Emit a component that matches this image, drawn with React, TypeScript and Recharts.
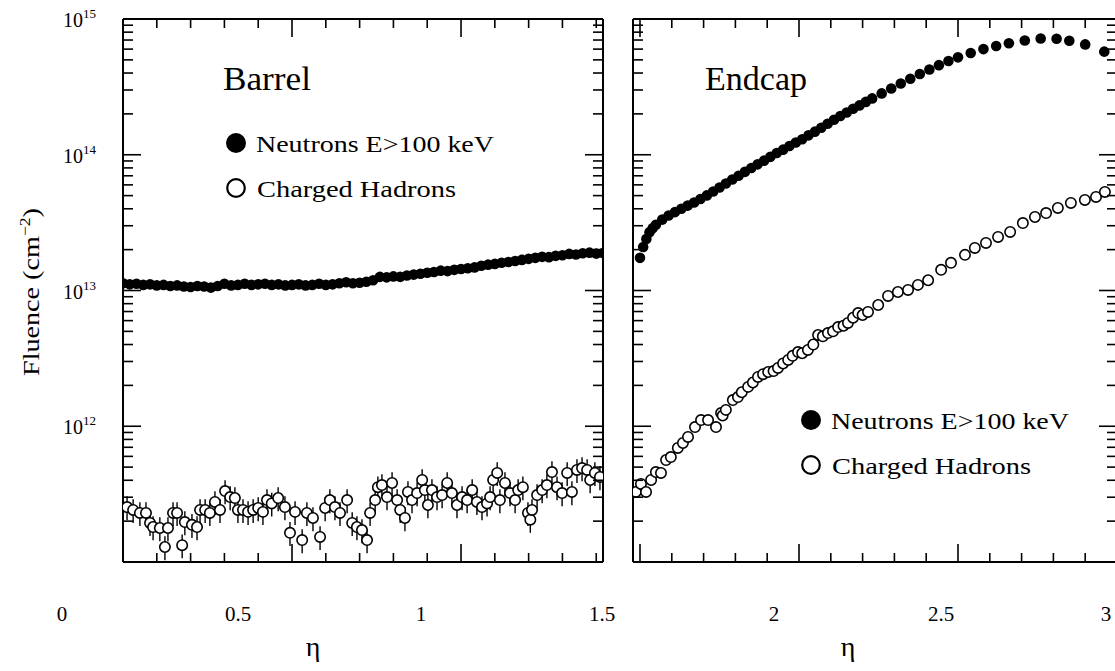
import React from 'react';
import { ScatterChart, Scatter, XAxis, YAxis, ErrorBar } from 'recharts';

const FONT = '"Liberation Serif", "Times New Roman", serif';

// ---- Barrel (|eta| < 1.42) ----
const barrelNeutronEta = [
  0.0, 0.02, 0.04, 0.06, 0.08, 0.1, 0.12, 0.14, 0.16, 0.18, 0.2, 0.22, 0.24, 0.26, 0.28, 0.3, 0.32, 0.34,
  0.36, 0.38, 0.4, 0.42, 0.44, 0.46, 0.48, 0.5, 0.52, 0.54, 0.56, 0.58, 0.6, 0.62, 0.64, 0.66, 0.68, 0.7,
  0.72, 0.74, 0.76, 0.78, 0.8, 0.82, 0.84, 0.86, 0.88, 0.9, 0.92, 0.94, 0.96, 0.98, 1.0, 1.02, 1.04, 1.06,
  1.08, 1.1, 1.12, 1.14, 1.16, 1.18, 1.2, 1.22, 1.24, 1.26, 1.28, 1.3, 1.32, 1.34, 1.36, 1.38, 1.4, 1.42,
];
const barrelNeutronFluence = [
  1.13e13, 1.11e13, 1.12e13, 1.1e13, 1.11e13, 1.09e13, 1.1e13, 1.08e13, 1.09e13, 1.07e13, 1.06e13, 1.08e13,
  1.07e13, 1.05e13, 1.08e13, 1.12e13, 1.09e13, 1.1e13, 1.12e13, 1.1e13, 1.11e13, 1.12e13, 1.1e13, 1.11e13,
  1.09e13, 1.1e13, 1.11e13, 1.09e13, 1.1e13, 1.12e13, 1.1e13, 1.11e13, 1.13e13, 1.15e13, 1.13e13, 1.14e13,
  1.16e13, 1.19e13, 1.26e13, 1.25e13, 1.27e13, 1.26e13, 1.29e13, 1.31e13, 1.33e13, 1.35e13, 1.37e13, 1.4e13,
  1.39e13, 1.42e13, 1.44e13, 1.46e13, 1.48e13, 1.52e13, 1.55e13, 1.57e13, 1.6e13, 1.62e13, 1.65e13, 1.68e13,
  1.71e13, 1.74e13, 1.77e13, 1.76e13, 1.8e13, 1.82e13, 1.86e13, 1.84e13, 1.88e13, 1.9e13, 1.87e13, 1.89e13,
];

const barrelHadronEta = [
  0.012, 0.03, 0.05, 0.068, 0.08, 0.089, 0.109, 0.124, 0.133, 0.148, 0.16, 0.175, 0.183, 0.204, 0.219, 0.228,
  0.243, 0.257, 0.272, 0.287, 0.302, 0.317, 0.331, 0.34, 0.355, 0.37, 0.385, 0.4, 0.414, 0.426, 0.44, 0.459,
  0.479, 0.494, 0.509, 0.53, 0.544, 0.562, 0.583, 0.598, 0.612, 0.627, 0.642, 0.663, 0.678, 0.692, 0.707, 0.722,
  0.731, 0.746, 0.754, 0.766, 0.781, 0.796, 0.811, 0.82, 0.834, 0.843, 0.855, 0.87, 0.885, 0.893, 0.902, 0.914,
  0.929, 0.944, 0.959, 0.973, 0.988, 1.003, 1.018, 1.033, 1.047, 1.062, 1.077, 1.086, 1.095, 1.107, 1.115, 1.13,
  1.145, 1.16, 1.169, 1.183, 1.198, 1.205, 1.21, 1.225, 1.24, 1.254, 1.269, 1.284, 1.299, 1.314, 1.328, 1.343,
  1.358, 1.373, 1.382, 1.396, 1.411,
];
const barrelHadronFluence = [
  2.54e11, 2.42e11, 2.3e11, 2.3e11, 1.94e11, 1.81e11, 1.78e11, 1.29e11, 1.78e11, 2.3e11, 2.3e11, 1.33e11,
  1.97e11, 1.88e11, 1.81e11, 2.42e11, 2.42e11, 2.3e11, 2.77e11, 2.42e11, 3.33e11, 3.01e11, 2.96e11, 2.42e11,
  2.42e11, 2.34e11, 2.42e11, 2.5e11, 2.34e11, 2.86e11, 2.7e11, 2.96e11, 2.54e11, 1.64e11, 2.34e11, 1.45e11,
  2.3e11, 2.11e11, 1.53e11, 2.5e11, 2.86e11, 2.54e11, 2.3e11, 2.86e11, 1.94e11, 1.81e11, 1.72e11, 1.45e11,
  2.3e11, 2.86e11, 3.56e11, 3.69e11, 3.01e11, 3.82e11, 2.86e11, 2.42e11, 2.11e11, 3.28e11, 2.86e11, 3.22e11,
  4.02e11, 3.39e11, 2.63e11, 3.39e11, 3.01e11, 3.11e11, 3.82e11, 3.22e11, 2.63e11, 3.01e11, 2.86e11, 3.39e11,
  2.77e11, 2.54e11, 2.7e11, 3.01e11, 4.02e11, 4.53e11, 2.86e11, 3.82e11, 3.22e11, 2.86e11, 3.39e11, 3.56e11,
  2.3e11, 2.05e11, 2.42e11, 3.11e11, 3.39e11, 3.69e11, 4.6e11, 3.56e11, 3.22e11, 4.53e11, 3.28e11, 4.77e11,
  4.92e11, 4.77e11, 4.02e11, 4.53e11, 4.23e11,
];

// ---- Endcap (1.48 < |eta| < 3) ----
const endcapNeutronEta = [
  1.5, 1.51, 1.52, 1.53, 1.54, 1.55, 1.57, 1.59, 1.61, 1.63, 1.65, 1.67, 1.69, 1.71, 1.73, 1.75, 1.77, 1.79,
  1.81, 1.83, 1.85, 1.87, 1.89, 1.91, 1.93, 1.95, 1.97, 1.99, 2.01, 2.03, 2.05, 2.07, 2.09, 2.11, 2.13, 2.15,
  2.17, 2.19, 2.21, 2.23, 2.26, 2.29, 2.32, 2.35, 2.38, 2.41, 2.44, 2.47, 2.5, 2.54, 2.58, 2.62, 2.66, 2.71,
  2.76, 2.81, 2.85, 2.9, 2.96,
];
const endcapNeutronFluence = [
  1.74e13, 2.09e13, 2.4e13, 2.69e13, 2.88e13, 3.05e13, 3.33e13, 3.57e13, 3.78e13, 4.0e13, 4.22e13, 4.45e13,
  4.72e13, 5.02e13, 5.36e13, 5.74e13, 6.14e13, 6.57e13, 7.0e13, 7.48e13, 7.98e13, 8.5e13, 9.05e13, 9.65e13,
  1.03e14, 1.09e14, 1.16e14, 1.23e14, 1.3e14, 1.39e14, 1.48e14, 1.58e14, 1.69e14, 1.81e14, 1.93e14, 2.05e14,
  2.18e14, 2.31e14, 2.45e14, 2.6e14, 2.83e14, 3.08e14, 3.35e14, 3.63e14, 3.93e14, 4.25e14, 4.57e14, 4.9e14,
  5.22e14, 5.62e14, 6.0e14, 6.33e14, 6.62e14, 6.95e14, 7.18e14, 7.16e14, 6.92e14, 6.5e14, 5.75e14,
];

const endcapHadronEta = [
  1.487, 1.503, 1.519, 1.535, 1.55, 1.566, 1.582, 1.597, 1.619, 1.635, 1.651, 1.673, 1.692, 1.714, 1.739, 1.755,
  1.76, 1.77, 1.792, 1.808, 1.82, 1.84, 1.855, 1.871, 1.887, 1.903, 1.92, 1.934, 1.95, 1.966, 1.98, 1.997, 2.01,
  2.028, 2.045, 2.06, 2.075, 2.091, 2.107, 2.123, 2.14, 2.154, 2.17, 2.186, 2.2, 2.217, 2.249, 2.28, 2.311,
  2.343, 2.374, 2.406, 2.447, 2.478, 2.522, 2.553, 2.588, 2.626, 2.664, 2.704, 2.742, 2.777, 2.814, 2.855,
  2.899, 2.934, 2.962,
];
const endcapHadronFluence = [
  3.28e11, 3.76e11, 3.28e11, 4.02e11, 4.6e11, 4.53e11, 5.64e11, 5.93e11, 6.92e11, 7.53e11, 8.34e11, 9.86e11,
  1.11e12, 1.11e12, 9.86e11, 1.25e12, 1.2e12, 1.32e12, 1.56e12, 1.64e12, 1.78e12, 1.95e12, 2.1e12, 2.31e12,
  2.42e12, 2.51e12, 2.55e12, 2.69e12, 2.9e12, 3.08e12, 3.3e12, 3.52e12, 3.45e12, 3.65e12, 4.0e12, 4.7e12,
  4.6e12, 4.86e12, 5.0e12, 5.38e12, 5.5e12, 5.77e12, 6.3e12, 6.82e12, 6.6e12, 6.95e12, 7.82e12, 9.12e12,
  9.75e12, 1.01e13, 1.1e13, 1.19e13, 1.42e13, 1.6e13, 1.83e13, 2.06e13, 2.24e13, 2.48e13, 2.7e13, 3.14e13,
  3.48e13, 3.72e13, 4.06e13, 4.42e13, 4.65e13, 4.89e13, 5.32e13,
];

// relative statistical errors on the charged hadron points
const BARREL_HADRON_ERR = 0.2;
const ENDCAP_HADRON_ERR = 0.06;

// ---- axes ----
const barrelTicks = [0, 0.1, 0.2, 0.3, 0.4, 0.5, 0.6, 0.7, 0.8, 0.9, 1.0, 1.1, 1.2, 1.3, 1.4];
const endcapTicks = [1.5, 1.6, 1.7, 1.8, 1.9, 2.0, 2.1, 2.2, 2.3, 2.4, 2.5, 2.6, 2.7, 2.8, 2.9, 3.0];
const decades = [11, 12, 13, 14];
const mantissas = [1, 2, 3, 4, 5, 6, 7, 8, 9];
const yTicks = [...decades.flatMap((d) => mantissas.map((m) => m * 10 ** d)), 1e15];
const labelledDecades = [12, 13, 14, 15];

const xLabels = ['0', '0.5', '1', '1.5', '2', '2.5', '3'];
const xLabelPos = [62, 238, 421, 602, 774, 941, 1106];

const isHalf = (v: number) => Math.abs(v * 2 - Math.round(v * 2)) < 1e-6;
const isDecade = (v: number) => {
  const e = Math.round(Math.log10(v));
  return Math.abs(v / 10 ** e - 1) < 1e-6;
};

const XTick = ({ x, y, payload, dir }: any) => {
  const len = isHalf(payload.value) ? 18 : 9;
  return <line x1={x} x2={x} y1={y} y2={y + dir * len} stroke="#000" strokeWidth={1.6} />;
};

const YTick = ({ x, y, payload, dir, label }: any) => {
  const major = isDecade(payload.value);
  const len = major ? 18 : 10;
  const exp = Math.round(Math.log10(payload.value));
  return (
    <g>
      <line x1={x} x2={x + dir * len} y1={y} y2={y} stroke="#000" strokeWidth={1.6} />
      {label && major && labelledDecades.includes(exp) && (
        <text x={x - 60} y={y + 8} fontFamily={FONT} fontSize={20} fill="#000">
          10
          <tspan dy={-9} fontSize={13}>
            {exp}
          </tspan>
        </text>
      )}
    </g>
  );
};

const FilledDot = ({ cx, cy }: any) => <circle cx={cx} cy={cy} r={5.3} fill="#000" />;
const OpenDot = ({ cx, cy }: any) => (
  <circle cx={cx} cy={cy} r={5.2} fill="#fff" stroke="#000" strokeWidth={1.6} />
);

const barrelNeutrons = barrelNeutronEta.map((eta, i) => ({ eta, fluence: barrelNeutronFluence[i] }));
const barrelHadrons = barrelHadronEta.map((eta, i) => ({
  eta,
  fluence: barrelHadronFluence[i],
  err: barrelHadronFluence[i] * BARREL_HADRON_ERR,
}));
const endcapNeutrons = endcapNeutronEta.map((eta, i) => ({ eta, fluence: endcapNeutronFluence[i] }));
const endcapHadrons = endcapHadronEta.map((eta, i) => ({
  eta,
  fluence: endcapHadronFluence[i],
  err: endcapHadronFluence[i] * ENDCAP_HADRON_ERR,
}));

const axisLine = { stroke: '#000', strokeWidth: 2 };

const Panel = ({ width, margin, domain, ticks, neutrons, hadrons, yLabels }: any) => (
  <ScatterChart width={width} height={671} margin={margin}>
    <XAxis
      type="number"
      dataKey="eta"
      domain={domain}
      ticks={ticks}
      interval={0}
      allowDataOverflow
      height={1}
      tickSize={0}
      tickMargin={0}
      axisLine={axisLine}
      tickLine={false}
      tick={(p: any) => <XTick {...p} dir={-1} />}
    />
    <XAxis
      xAxisId="top"
      orientation="top"
      type="number"
      dataKey="eta"
      domain={domain}
      ticks={ticks}
      interval={0}
      allowDataOverflow
      height={1}
      tickSize={0}
      tickMargin={0}
      axisLine={axisLine}
      tickLine={false}
      tick={(p: any) => <XTick {...p} dir={1} />}
    />
    <YAxis
      type="number"
      dataKey="fluence"
      scale="log"
      domain={[1e11, 1e15]}
      ticks={yTicks}
      interval={0}
      allowDataOverflow
      width={1}
      tickSize={0}
      tickMargin={0}
      axisLine={axisLine}
      tickLine={false}
      tick={(p: any) => <YTick {...p} dir={1} label={yLabels} />}
    />
    <YAxis
      yAxisId="right"
      orientation="right"
      type="number"
      dataKey="fluence"
      scale="log"
      domain={[1e11, 1e15]}
      ticks={yTicks}
      interval={0}
      allowDataOverflow
      width={1}
      tickSize={0}
      tickMargin={0}
      axisLine={axisLine}
      tickLine={false}
      tick={(p: any) => <YTick {...p} dir={-1} />}
    />
    <Scatter data={neutrons} dataKey="fluence" shape={FilledDot} isAnimationActive={false} />
    <Scatter data={hadrons} dataKey="fluence" shape={OpenDot} isAnimationActive={false}>
      <ErrorBar dataKey="err" direction="y" width={0} stroke="#000" strokeWidth={1.4} isAnimationActive={false} />
    </Scatter>
  </ScatterChart>
);

const Legend = ({ x, y }: { x: number; y: number }) => (
  <g fill="#000">
    <circle cx={x} cy={y} r={10} fill="#000" />
    <text x={x + 20} y={y + 9} fontFamily={FONT} fontSize={24} textLength={238} lengthAdjust="spacingAndGlyphs">
      Neutrons E&gt;100 keV
    </text>
    <circle cx={x} cy={y + 45} r={8.8} fill="none" stroke="#000" strokeWidth={2.2} />
    <text x={x + 21} y={y + 54} fontFamily={FONT} fontSize={24} textLength={199} lengthAdjust="spacingAndGlyphs">
      Charged Hadrons
    </text>
  </g>
);

export default function App() {
  return (
    <div style={{ position: 'absolute', left: 0, top: 0, width: 1115, height: 671, overflow: 'hidden', background: '#fff' }}>
      <div style={{ position: 'absolute', left: 0, top: 0 }}>
        <Panel
          width={620}
          margin={{ top: 18, bottom: 108, left: 122, right: 16 }}
          domain={[0, 1.42]}
          ticks={barrelTicks}
          neutrons={barrelNeutrons}
          hadrons={barrelHadrons}
          yLabels
        />
      </div>
      <div style={{ position: 'absolute', left: 620, top: 0 }}>
        <Panel
          width={510}
          margin={{ top: 18, bottom: 108, left: 12, right: 12 }}
          domain={[1.478, 3.0]}
          ticks={endcapTicks}
          neutrons={endcapNeutrons}
          hadrons={endcapHadrons}
          yLabels={false}
        />
      </div>
      <svg width={1115} height={671} style={{ position: 'absolute', left: 0, top: 0, pointerEvents: 'none' }}>
        <text x={223} y={90} fontFamily={FONT} fontSize={33} textLength={88} lengthAdjust="spacingAndGlyphs">
          Barrel
        </text>
        <text x={705} y={90} fontFamily={FONT} fontSize={33} textLength={102} lengthAdjust="spacingAndGlyphs">
          Endcap
        </text>
        <Legend x={236} y={143} />
        <Legend x={811} y={420} />
        <text
          transform="translate(39, 292) rotate(-90)"
          textAnchor="middle"
          fontFamily={FONT}
          fontSize={24}
          textLength={168}
          lengthAdjust="spacingAndGlyphs"
        >
          Fluence (cm
          <tspan dy={-9} fontSize={15}>−2</tspan>
          <tspan dy={9}>)</tspan>
        </text>
        {xLabels.map((t, i) => (
          <text key={t} x={xLabelPos[i]} y={621} textAnchor="middle" fontFamily={FONT} fontSize={21}>
            {t}
          </text>
        ))}
        <text x={313} y={656} textAnchor="middle" fontFamily={FONT} fontSize={28}>η</text>
        <text x={848} y={656} textAnchor="middle" fontFamily={FONT} fontSize={28}>η</text>
      </svg>
    </div>
  );
}
